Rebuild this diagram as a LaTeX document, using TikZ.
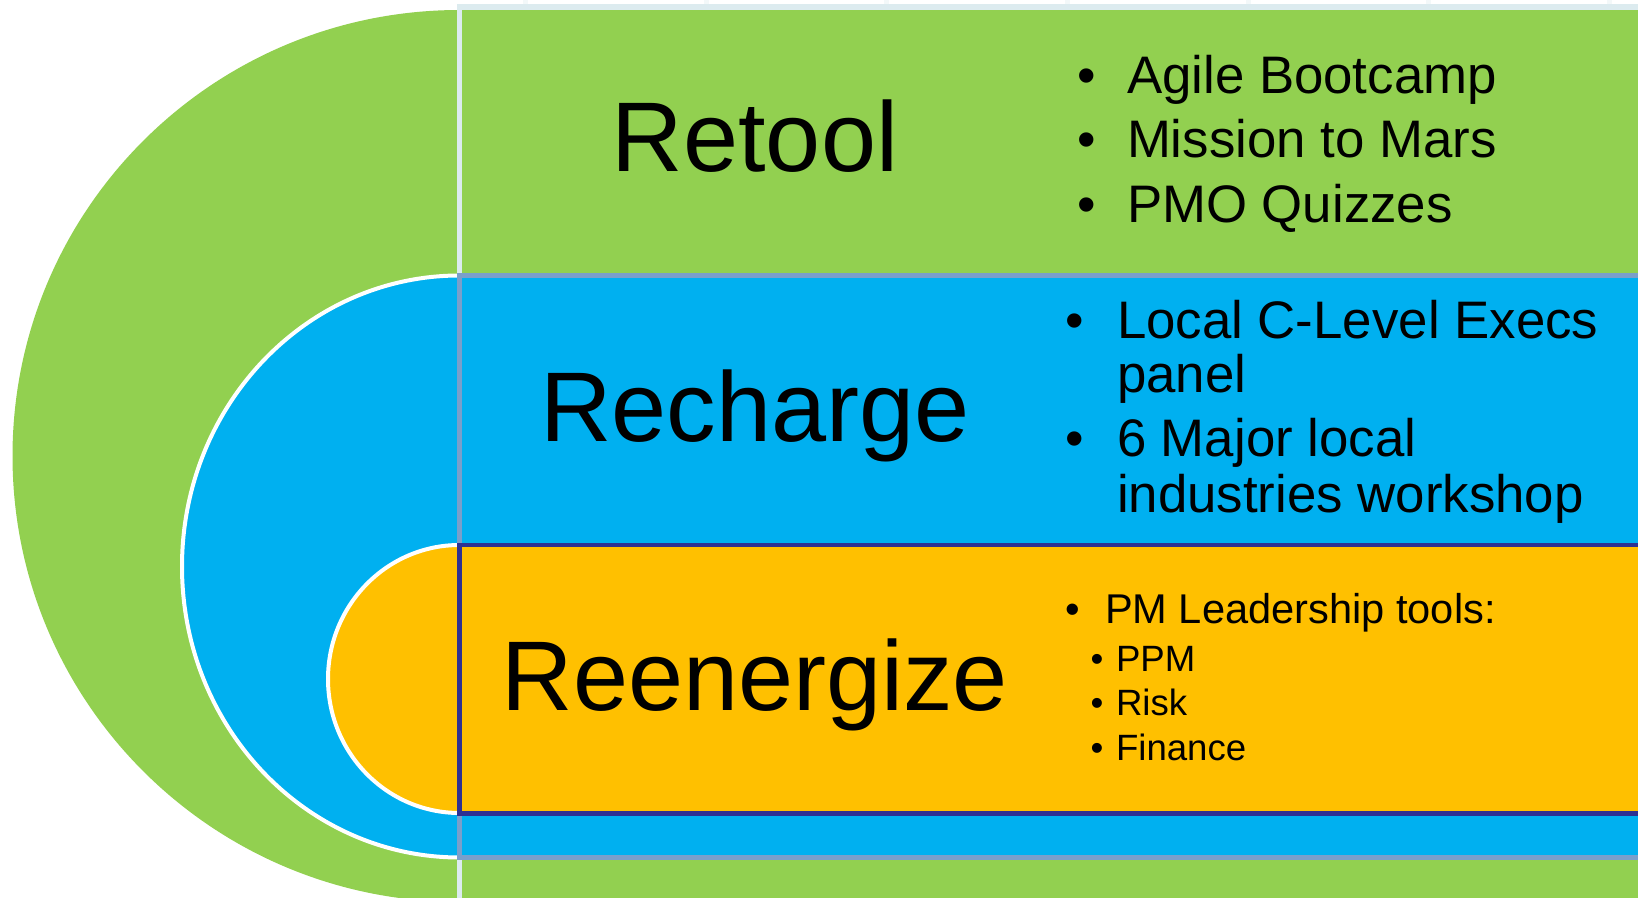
\documentclass[tikz,border=0pt]{standalone}
\usepackage{fontspec}
\setmainfont{Liberation Sans}
\definecolor{retoolgreen}{HTML}{92D050}
\definecolor{rechargeblue}{HTML}{00B0F0}
\definecolor{reenergyellow}{HTML}{FFC000}
\definecolor{paleline}{HTML}{DCEBEF}
\definecolor{steelline}{HTML}{7A9FCB}
\definecolor{navyline}{HTML}{2E3192}

\begin{document}
\begin{tikzpicture}[
          x=0.5pt, y=-0.5pt,
          every node/.style={
            inner sep=0pt,
            outer sep=0pt,
          },
          title/.style={anchor=base, font=\fontsize{49.5}{59}\selectfont},
          bigtext/.style={font=\fontsize{26.4}{32}\selectfont},
          midtext/.style={font=\fontsize{20.8}{25}\selectfont},
          smalltext/.style={font=\fontsize{18.3}{22}\selectfont},
          dot/.style={anchor=base},
          item/.style={anchor=base west},
          ring/.style={draw=white, line width=2pt},
        ]
        \useasboundingbox (0,0) rectangle (1638,898);
        \clip (0,0) rectangle (1638,898);
        \foreach \x in {525,706,886,1067,1248,1428,1609}
          \draw[paleline!35, line width=2.5pt] (\x,0) -- (\x,4);
        \fill[retoolgreen] (459.5,456) ellipse [x radius=447, y radius=446];
        \draw[paleline, line width=2.75pt, fill=retoolgreen] (459.5,7) rectangle (1680,940);
        \fill[rechargeblue] (459.5,566.5) ellipse [x radius=277.5, y radius=291];
        \draw[ring] (459.5,275.5) arc [start angle=270, end angle=90, x radius=277.5, y radius=291];
        \draw[steelline, line width=2.5pt, fill=rechargeblue] (459.5,275.5) rectangle (1680,857.5);
        \fill[reenergyellow] (459.5,679) ellipse [x radius=131.5, y radius=134];
        \draw[ring] (459.5,545) arc [start angle=270, end angle=90, x radius=131.5, y radius=134];
        \draw[navyline, line width=2.3pt, fill=reenergyellow] (459.5,545) rectangle (1680,813.5);
        \node[title] (retool) at (755,172) {Retool};
        \node[title] (recharge) at (755,442) {Recharge};
        \node[title] (reenergize) at (755,710) {Reenergize};
        \foreach \txt [count=\i] in {Agile Bootcamp, Mission to Mars, PMO Quizzes} {
          \node[dot, bigtext] (retool-dot-\i) at (1087,{29+64.5*\i}) {•};
          \node[item, bigtext] (retool-item-\i) at (1127,{29+64.5*\i}) {\txt};
        }
        \node[dot, bigtext] (recharge-dot-1) at (1075,339) {•};
        \node[item, bigtext] (recharge-item-1a) at (1117,339) {Local C-Level Execs};
        \node[item, bigtext] (recharge-item-1b) at (1117,393) {panel};
        \node[dot, bigtext] (recharge-dot-2) at (1075,457) {•};
        \node[item, bigtext] (recharge-item-2a) at (1117,457) {6 Major local};
        \node[item, bigtext] (recharge-item-2b) at (1117,512) {industries workshop};
        \node[dot, midtext] (tools-dot) at (1073,623) {•};
        \node[item, midtext] (tools) at (1105,623) {PM Leadership tools:};
        \foreach \txt [count=\i] in {PPM, Risk, Finance} {
          \node[dot, smalltext] (tool-dot-\i) at (1097,{626.5+44.5*\i}) {•};
          \node[item, smalltext] (tool-\i) at (1116,{626.5+44.5*\i}) {\txt};
        }
        \end{tikzpicture}
\end{document}
